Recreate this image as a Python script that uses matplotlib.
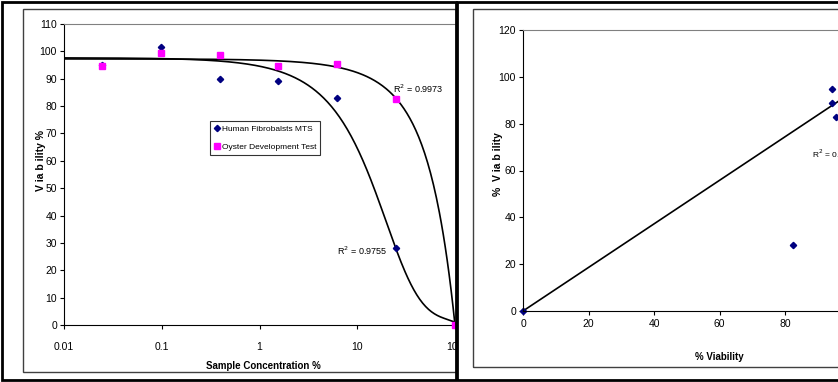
import numpy as np
import matplotlib.pyplot as plt
from matplotlib.patches import Rectangle

# Datos
conc = [0.0244, 0.0977, 0.39, 1.56, 6.25, 25, 100]
fibro = [95, 101.5, 90, 89, 83, 28, 0]
oyster = [94.5, 99.5, 98.5, 94.5, 95.5, 82.5, 0]
# línea de tendencia de fibroblastos, puntos leídos sobre la curva dibujada
trend_fibro_x = [0.01, 0.5, 1.56, 3.1, 6.25, 12.5, 25, 44, 70.6, 100]
trend_fibro_y = [98, 97.3, 92.6, 87, 76, 57, 28, 9.1, 3.0, 1.0]
r2_fibro = "0.9755"
r2_oyster = "0.9973"
xticks_left = [0.01, 0.1, 1, 10, 100]
yticks_left = list(range(0, 111, 10))
ticks_right = list(range(0, 121, 20))
# panel derecho: % viabilidad ostra vs fibroblastos
right_x = [0, 94.5, 99.5, 98.5, 94.5, 95.5, 82.5]
right_y = [0, 95, 101.5, 90, 89, 83, 28]
trend_right_x = [0, 120]
trend_right_y = [0, 111.6]
r2_right = "0.7"

plt.rcParams['font.family'] = ['Liberation Sans Narrow', 'Liberation Sans', 'DejaVu Sans']
W, H = 838, 382

def fx(px):
    return px / W

def fy(py):
    return 1 - py / H

fig = plt.figure(figsize=(W / 100, H / 100), dpi=100)

# Panel izquierdo
ax = fig.add_axes([fx(64), fy(325), fx(455) - fx(64), fy(24) - fy(325)])
xs = np.logspace(-2, 2, 400)
# ajuste suave sobre log(y+1) para seguir la forma de la curva
p_fi = np.polyfit(trend_fibro_x, np.log(np.array(trend_fibro_y) + 1), 4)
ax.plot(xs, np.exp(np.polyval(p_fi, xs)) - 1, color='black', lw=1.2, zorder=2)
p_oy = np.polyfit(conc, oyster, 2)
ax.plot(xs, np.polyval(p_oy, xs), color='black', lw=1.2, zorder=2)
ax.plot(conc, fibro, 'D', color='#000080', ms=3.2, ls='none', label='Human Fibrobalsts MTS', zorder=3, clip_on=False)
ax.plot(conc, oyster, 's', color='#FF00FF', ms=4.2, ls='none', label='Oyster Development Test', zorder=4, clip_on=False)
ax.set_xscale('log')
ax.set_xlim(0.01, 100)
ax.set_ylim(0, 110)
ax.set_xticks(xticks_left)
ax.set_xticklabels(['0.01', '0.1', '1', '10', '100'])
ax.minorticks_off()
ax.set_yticks(yticks_left)
ax.tick_params(labelsize=7.5, length=3, direction='out', pad=9)
ax.tick_params(axis='y', pad=2)
ax.spines['right'].set_visible(False)
ax.spines['top'].set_color('#808080')
ax.set_xlabel('Sample Concentration %', fontsize=7, fontweight='bold')
ax.xaxis.set_label_coords(0.51, -0.12)
ax.set_ylabel('V ia b ility %', fontsize=7.5, fontweight='bold')
ax.yaxis.set_label_coords(-0.045, 0.545)
ax.text(23.3, 86.3, 'R$^2$ = ' + r2_oyster, fontsize=6.5, va='center', ha='left')
ax.text(20.2, 27, 'R$^2$ = ' + r2_fibro, fontsize=6.5, va='center', ha='right')
leg = ax.legend(loc='upper left', bbox_to_anchor=((210 - 64) / 391, (325 - 121) / 301),
                fontsize=6, frameon=True, fancybox=False, edgecolor='black', handlelength=0.6,
                handletextpad=0.3, borderpad=0.5, labelspacing=1.2, borderaxespad=0)
leg.get_frame().set_linewidth(0.8)

# Tapa blanca y marcos
fig.add_artist(Rectangle((fx(457), 0), 1, 1, transform=fig.transFigure, facecolor='white', edgecolor='none', zorder=1))
fig.add_artist(Rectangle((fx(23), fy(372)), fx(456) - fx(23), fy(9) - fy(372), transform=fig.transFigure,
                         facecolor='none', edgecolor='#404040', lw=1, zorder=1))
fig.add_artist(Rectangle((fx(473), fy(367)), 1, fy(9) - fy(367), transform=fig.transFigure,
                         facecolor='none', edgecolor='#404040', lw=1, zorder=1))
fig.add_artist(Rectangle((fx(2), fy(380)), fx(456) - fx(2), fy(2) - fy(380), transform=fig.transFigure,
                         facecolor='none', edgecolor='black', lw=2, zorder=1))
fig.add_artist(Rectangle((fx(457), fy(380)), 1, fy(2) - fy(380), transform=fig.transFigure,
                         facecolor='none', edgecolor='black', lw=2, zorder=1))

# Panel derecho
ax2 = fig.add_axes([fx(523), fy(311), fx(523 + 6 * 65.5) - fx(523), fy(30) - fy(311)], zorder=2)
ax2.patch.set_alpha(0)
ax2.plot(trend_right_x, trend_right_y, color='black', lw=1.2)
ax2.plot(right_x, right_y, 'D', color='#000080', ms=3.2, ls='none', clip_on=False)
ax2.set_xlim(0, 120)
ax2.set_ylim(0, 120)
ax2.set_xticks(ticks_right)
ax2.set_yticks(ticks_right)
ax2.tick_params(labelsize=7.5, length=3, direction='out', pad=3)
ax2.tick_params(axis='y', pad=2)
ax2.spines['right'].set_visible(False)
ax2.spines['top'].set_color('#808080')
ax2.set_xlabel('% Viability', fontsize=7, fontweight='bold')
ax2.xaxis.set_label_coords(0.5, -0.146)
ax2.set_ylabel('%  V ia b ility', fontsize=7.5, fontweight='bold')
ax2.yaxis.set_label_coords(-0.05, 0.523)
ax2.text(88.2, 67, 'R$^2$ = ' + r2_right, fontsize=6, va='center', ha='left')

fig.savefig('out.png', dpi=100)
